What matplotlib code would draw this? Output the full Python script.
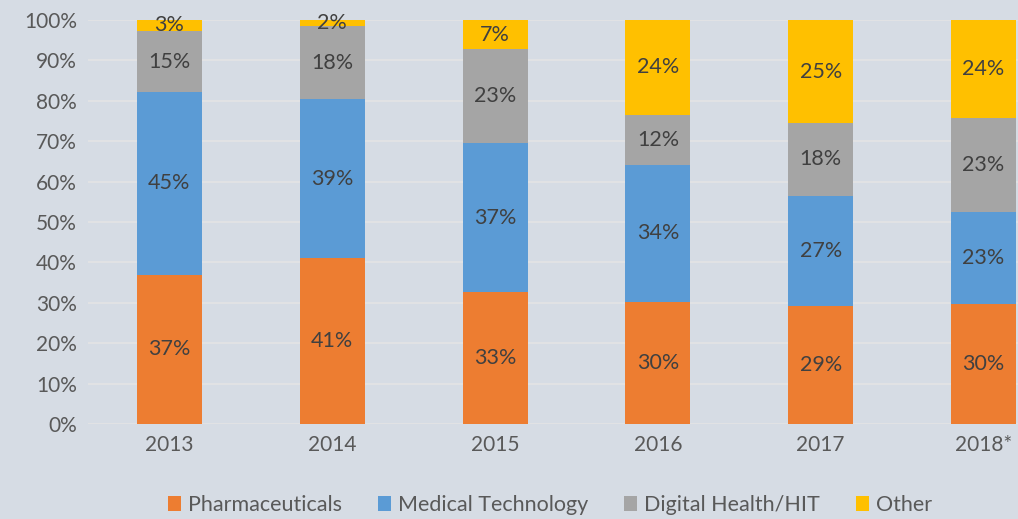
import matplotlib.pyplot as plt
import numpy as np

# Data
years = ['2013', '2014', '2015', '2016', '2017', '2018*']
pharma = [37.0, 41.0, 32.7, 30.2, 29.3, 29.8]
medtech = [45.1, 39.4, 36.8, 34.0, 27.2, 22.7]
digital = [15.2, 18.1, 23.2, 12.3, 18.0, 23.3]
other = [2.7, 1.5, 7.3, 23.6, 25.4, 24.2]

series = [
    ('Pharmaceuticals', pharma, '#ED7D31'),
    ('Medical Technology', medtech, '#5B9BD5'),
    ('Digital Health/HIT', digital, '#A5A5A5'),
    ('Other', other, '#FFC000'),
]

bg = '#D6DCE4'
plt.rcParams['font.family'] = ['Lato', 'DejaVu Sans']

fig = plt.figure(figsize=(10.18, 5.19), dpi=100, facecolor=bg)
ax = fig.add_axes([88 / 1018, 95 / 519, 977 / 1018, 404 / 519])
ax.set_facecolor(bg)

x = np.arange(len(years))
bottom = np.zeros(len(years))
for name, vals, color in series:
    vals = np.array(vals)
    ax.bar(x, vals, 0.4, bottom=bottom, color=color, label=name, zorder=3)
    for xi, b, v in zip(x, bottom, vals):
        ax.text(xi, b + v / 2, f'{v:.0f}%', ha='center', va='center',
                fontsize=15.5, color='#404040', zorder=4)
    bottom += vals

ax.set_xlim(-0.5, 5.5)
ax.set_ylim(0, 100)
ax.set_yticks(range(0, 101, 10))
ax.set_yticklabels([f'{v}%' for v in range(0, 101, 10)])
ax.set_xticks(x)
ax.set_xticklabels(years)
ax.tick_params(length=0, labelsize=15, colors='#595959', pad=8)
ax.grid(axis='y', color='#E4E4E4', linewidth=1.2, zorder=0)
for s in ax.spines.values():
    s.set_visible(False)

fig.legend(loc='lower center', bbox_to_anchor=(550 / 1018, -0.03), ncol=4,
           frameon=False, fontsize=15.5, handlelength=0.6, handleheight=0.7,
           handletextpad=0.3, columnspacing=1.7, labelcolor='#595959')

fig.savefig('out.png', dpi=100, facecolor=bg)
